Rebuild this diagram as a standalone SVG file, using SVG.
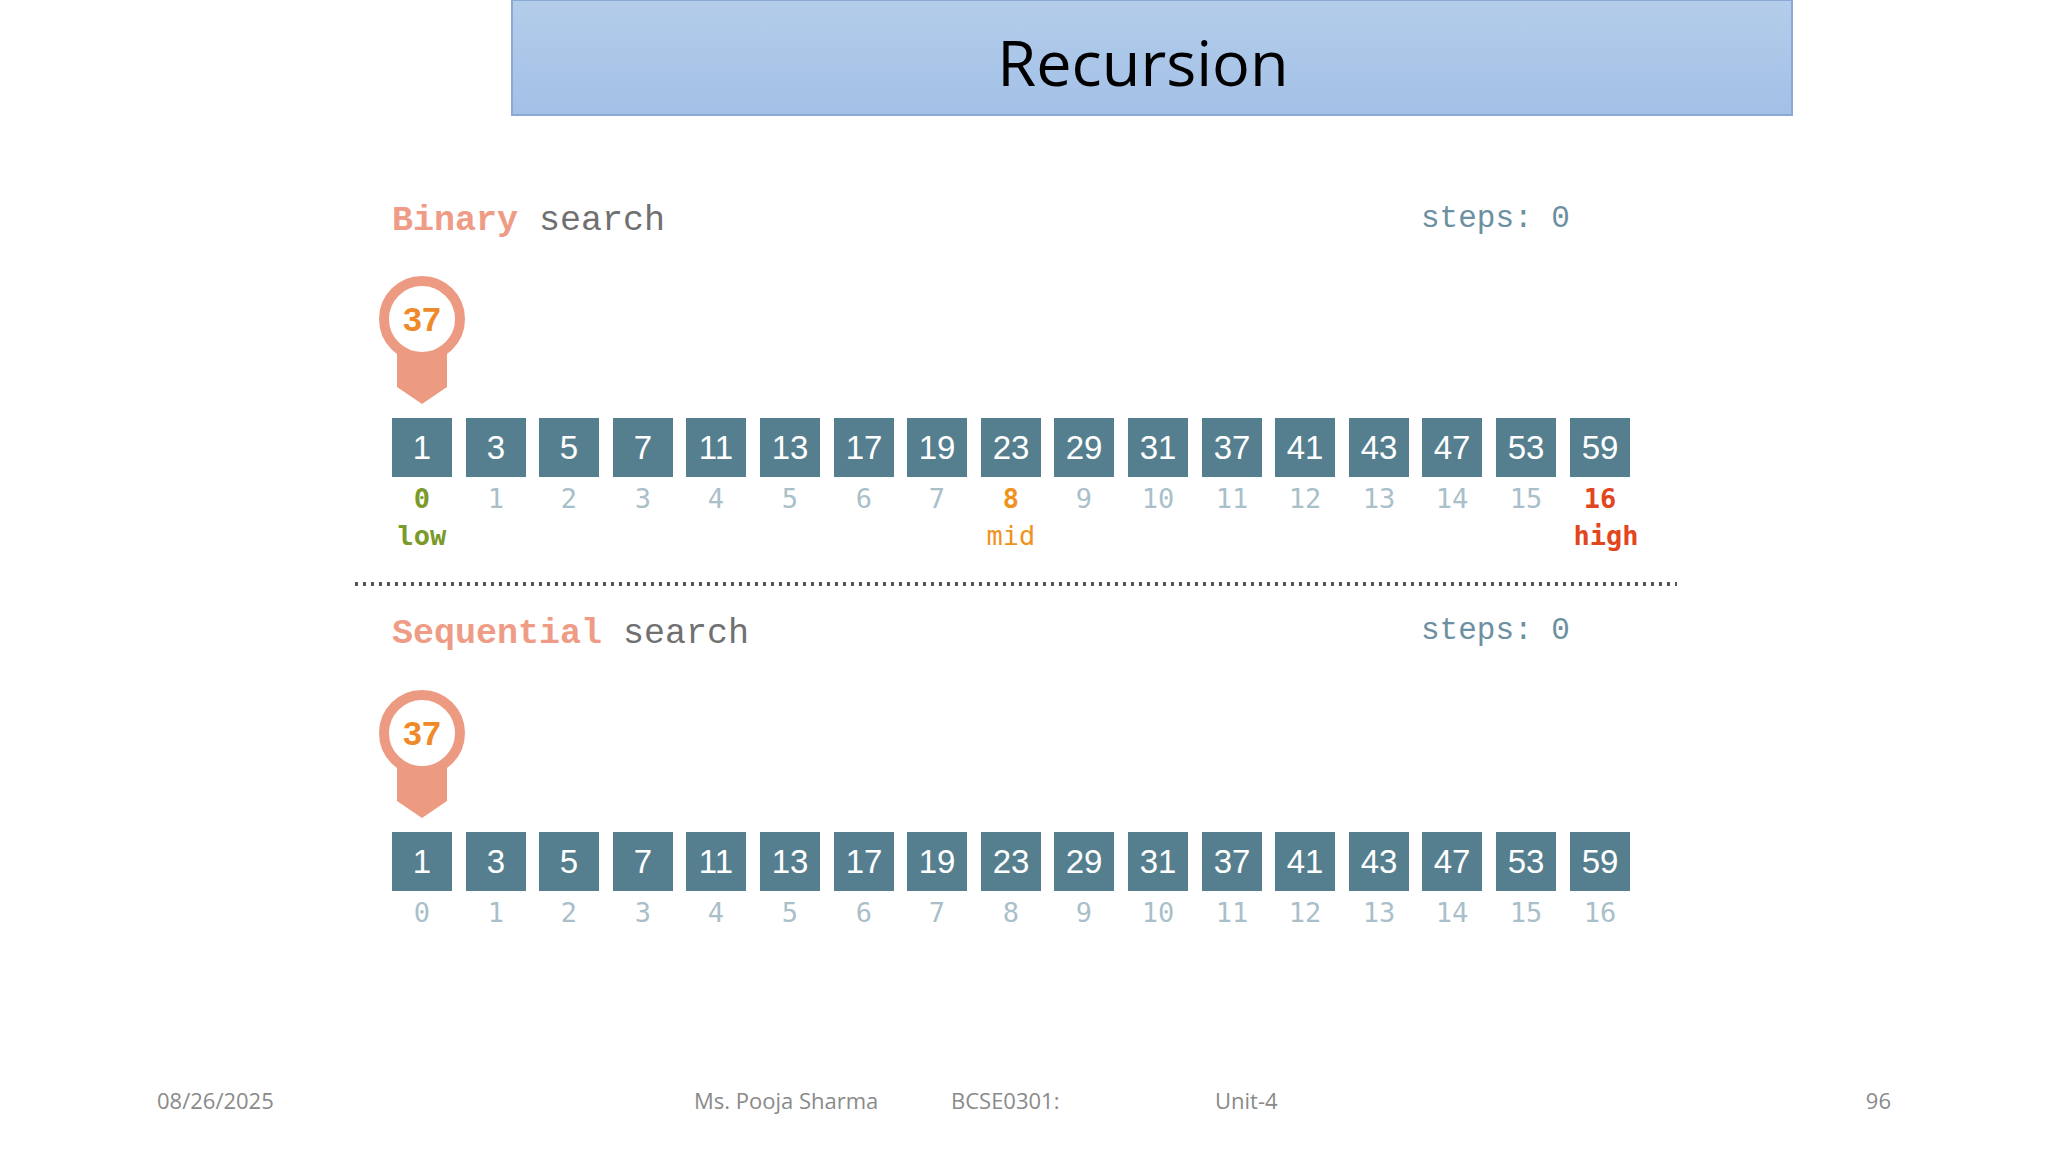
<svg xmlns="http://www.w3.org/2000/svg" width="2048" height="1152" viewBox="0 0 2048 1152">
<style>
.box{fill:#557f8f}
.bn{font-family:"Liberation Sans",Arial,sans-serif;font-size:33px;fill:#fff;text-anchor:middle}
.ix{font-family:"DejaVu Sans Mono","Liberation Mono",monospace;font-size:27px;fill:#a9bfc9;text-anchor:middle}
.hd{font-family:"Liberation Mono",monospace;font-size:35px}
.st{font-family:"Liberation Mono",monospace;font-size:31px;fill:#6c90a2}
.ft{font-family:"Open Sans","Liberation Sans",sans-serif;font-size:22px;fill:#8a8a8a}
</style>
<defs>
<linearGradient id="tg" x1="0" y1="0" x2="0" y2="1"><stop offset="0" stop-color="#b3cdea"/><stop offset="1" stop-color="#a3c0e6"/></linearGradient>
<g id="pin">
<path d="M397,345 L447,345 L447,387 L422,404 L397,387 Z" fill="#ec9a82"/>
<circle cx="422" cy="319" r="38" fill="#fff" stroke="#ec9a82" stroke-width="10"/>
<text x="422" y="331" font-family="Liberation Sans,sans-serif" font-size="34" font-weight="bold" fill="#ef8a2a" text-anchor="middle">37</text>
</g>
</defs>
<g id="title">
<rect x="512" y="0" width="1280" height="115" fill="url(#tg)" stroke="#8aa9d6" stroke-width="2"/>
<text x="1143" y="86" font-family="Open Sans,Liberation Sans,sans-serif" font-size="63" fill="#000" text-anchor="middle">Recursion</text>
</g>
<g id="binary">
<text x="392" y="230" class="hd"><tspan fill="#ef9c86" font-weight="bold">Binary</tspan><tspan fill="#707070"> search</tspan></text>
<text x="1421" y="227" class="st">steps: 0</text>
<use href="#pin"/>
<g id="row1">
<rect class="box" x="392" y="418" width="60" height="59"/><text class="bn" x="422" y="459">1</text>
<rect class="box" x="466" y="418" width="60" height="59"/><text class="bn" x="496" y="459">3</text>
<rect class="box" x="539" y="418" width="60" height="59"/><text class="bn" x="569" y="459">5</text>
<rect class="box" x="613" y="418" width="60" height="59"/><text class="bn" x="643" y="459">7</text>
<rect class="box" x="686" y="418" width="60" height="59"/><text class="bn" x="716" y="459">11</text>
<rect class="box" x="760" y="418" width="60" height="59"/><text class="bn" x="790" y="459">13</text>
<rect class="box" x="834" y="418" width="60" height="59"/><text class="bn" x="864" y="459">17</text>
<rect class="box" x="907" y="418" width="60" height="59"/><text class="bn" x="937" y="459">19</text>
<rect class="box" x="981" y="418" width="60" height="59"/><text class="bn" x="1011" y="459">23</text>
<rect class="box" x="1054" y="418" width="60" height="59"/><text class="bn" x="1084" y="459">29</text>
<rect class="box" x="1128" y="418" width="60" height="59"/><text class="bn" x="1158" y="459">31</text>
<rect class="box" x="1202" y="418" width="60" height="59"/><text class="bn" x="1232" y="459">37</text>
<rect class="box" x="1275" y="418" width="60" height="59"/><text class="bn" x="1305" y="459">41</text>
<rect class="box" x="1349" y="418" width="60" height="59"/><text class="bn" x="1379" y="459">43</text>
<rect class="box" x="1422" y="418" width="60" height="59"/><text class="bn" x="1452" y="459">47</text>
<rect class="box" x="1496" y="418" width="60" height="59"/><text class="bn" x="1526" y="459">53</text>
<rect class="box" x="1570" y="418" width="60" height="59"/><text class="bn" x="1600" y="459">59</text>
</g>
<g id="idx1">
<text class="ix" x="422" y="508" style="fill:#7a9a2a;font-weight:bold">0</text>
<text class="ix" x="496" y="508">1</text><text class="ix" x="569" y="508">2</text><text class="ix" x="643" y="508">3</text>
<text class="ix" x="716" y="508">4</text><text class="ix" x="790" y="508">5</text><text class="ix" x="864" y="508">6</text>
<text class="ix" x="937" y="508">7</text>
<text class="ix" x="1011" y="508" style="fill:#f0921e;font-weight:bold">8</text>
<text class="ix" x="1084" y="508">9</text><text class="ix" x="1158" y="508">10</text><text class="ix" x="1232" y="508">11</text>
<text class="ix" x="1305" y="508">12</text><text class="ix" x="1379" y="508">13</text><text class="ix" x="1452" y="508">14</text>
<text class="ix" x="1526" y="508">15</text>
<text class="ix" x="1600" y="508" style="fill:#e2461e;font-weight:bold">16</text>
<text class="ix" x="422" y="545" style="fill:#7a9a2a;font-weight:bold">low</text>
<text class="ix" x="1011" y="545" style="fill:#f0921e">mid</text>
<text class="ix" x="1606" y="545" style="fill:#e2461e;font-weight:bold">high</text>
</g>
</g>
<g id="divider">
<line x1="355" y1="584" x2="1677" y2="584" stroke="#555" stroke-width="4" stroke-dasharray="3,5"/>
</g>
<g id="sequential">
<text x="392" y="643" class="hd"><tspan fill="#ef9c86" font-weight="bold">Sequential</tspan><tspan fill="#707070"> search</tspan></text>
<text x="1421" y="639" class="st">steps: 0</text>
<use href="#pin" y="414"/>
<g id="row2">
<rect class="box" x="392" y="832" width="60" height="59"/><text class="bn" x="422" y="873">1</text>
<rect class="box" x="466" y="832" width="60" height="59"/><text class="bn" x="496" y="873">3</text>
<rect class="box" x="539" y="832" width="60" height="59"/><text class="bn" x="569" y="873">5</text>
<rect class="box" x="613" y="832" width="60" height="59"/><text class="bn" x="643" y="873">7</text>
<rect class="box" x="686" y="832" width="60" height="59"/><text class="bn" x="716" y="873">11</text>
<rect class="box" x="760" y="832" width="60" height="59"/><text class="bn" x="790" y="873">13</text>
<rect class="box" x="834" y="832" width="60" height="59"/><text class="bn" x="864" y="873">17</text>
<rect class="box" x="907" y="832" width="60" height="59"/><text class="bn" x="937" y="873">19</text>
<rect class="box" x="981" y="832" width="60" height="59"/><text class="bn" x="1011" y="873">23</text>
<rect class="box" x="1054" y="832" width="60" height="59"/><text class="bn" x="1084" y="873">29</text>
<rect class="box" x="1128" y="832" width="60" height="59"/><text class="bn" x="1158" y="873">31</text>
<rect class="box" x="1202" y="832" width="60" height="59"/><text class="bn" x="1232" y="873">37</text>
<rect class="box" x="1275" y="832" width="60" height="59"/><text class="bn" x="1305" y="873">41</text>
<rect class="box" x="1349" y="832" width="60" height="59"/><text class="bn" x="1379" y="873">43</text>
<rect class="box" x="1422" y="832" width="60" height="59"/><text class="bn" x="1452" y="873">47</text>
<rect class="box" x="1496" y="832" width="60" height="59"/><text class="bn" x="1526" y="873">53</text>
<rect class="box" x="1570" y="832" width="60" height="59"/><text class="bn" x="1600" y="873">59</text>
</g>
<g id="idx2">
<text class="ix" x="422" y="922">0</text><text class="ix" x="496" y="922">1</text><text class="ix" x="569" y="922">2</text>
<text class="ix" x="643" y="922">3</text><text class="ix" x="716" y="922">4</text><text class="ix" x="790" y="922">5</text>
<text class="ix" x="864" y="922">6</text><text class="ix" x="937" y="922">7</text><text class="ix" x="1011" y="922">8</text>
<text class="ix" x="1084" y="922">9</text><text class="ix" x="1158" y="922">10</text><text class="ix" x="1232" y="922">11</text>
<text class="ix" x="1305" y="922">12</text><text class="ix" x="1379" y="922">13</text><text class="ix" x="1452" y="922">14</text>
<text class="ix" x="1526" y="922">15</text><text class="ix" x="1600" y="922">16</text>
</g>
</g>
<g id="footer">
<text class="ft" x="157" y="1109">08/26/2025</text>
<text class="ft" x="694" y="1109">Ms. Pooja Sharma</text>
<text class="ft" x="951" y="1109">BCSE0301:</text>
<text class="ft" x="1215" y="1109">Unit-4</text>
<text class="ft" x="1891" y="1109" text-anchor="end">96</text>
</g>
</svg>
